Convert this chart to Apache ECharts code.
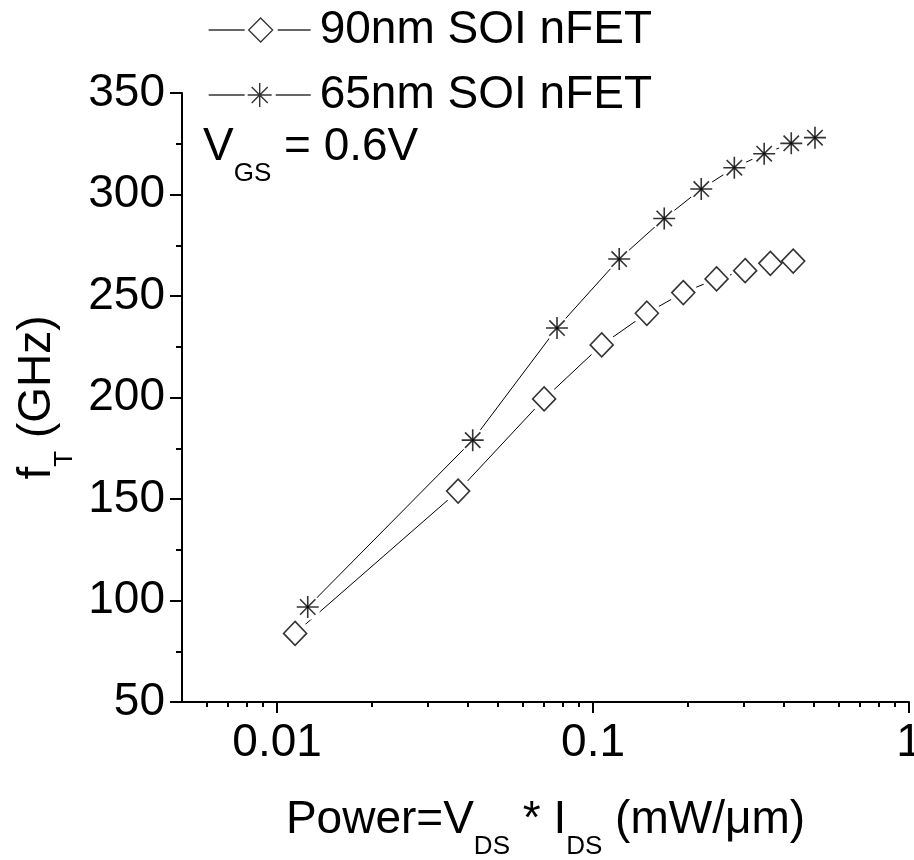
<!DOCTYPE html>
<html><head><meta charset="utf-8">
<script src="https://cdn.jsdelivr.net/npm/echarts@6/dist/echarts.min.js"></script>
<style>html,body{margin:0;padding:0;background:#fff}#c{width:914px;height:860px}</style>
</head><body><div id="c"></div>
<script>
// ---- data ----
const power90 = [0.0114, 0.0374, 0.0700, 0.1065, 0.148, 0.193, 0.246, 0.303, 0.364, 0.430];
const ft90    = [83.8, 153.9, 199.3, 225.9, 241.5, 251.7, 258.4, 262.5, 266.1, 267.2];
const power65 = [0.0125, 0.0416, 0.0769, 0.121, 0.168, 0.220, 0.280, 0.348, 0.424, 0.504];
const ft65    = [96.8, 179.0, 234.2, 268.2, 288.2, 302.7, 313.2, 320.1, 325.2, 328.0];
const seriesNames = ['90nm SOI nFET', '65nm SOI nFET'];
const xMajorTicks = [0.01, 0.1, 1];
const xMinorTicks = [0.006, 0.007, 0.008, 0.009, 0.02, 0.03, 0.04, 0.05, 0.06, 0.07, 0.08, 0.09,
                     0.2, 0.3, 0.4, 0.5, 0.6, 0.7, 0.8, 0.9];
const xMin = 0.005, xMax = 1;
const yMin = 50, yMax = 350, yStep = 50;

const FONT = "'Liberation Sans', Arial, sans-serif";
const pairs = (xs, ys) => xs.map((x, i) => [x, ys[i]]);
const d90 = pairs(power90, ft90);
const d65 = pairs(power65, ft65);

const STAR = 'path://M0,10 L20,10 M10,0 L10,20 M3,3 L17,17 M17,3 L3,17 M9,9 L11,9 L11,11 L9,11 Z';
const LEG90 = 'path://M0,12 L36,12 M69,12 L102,12 M52,0 L64,12 L52,24 L40,12 Z';
const LEG65 = 'path://M0,12 L36,12 M67,12 L102,12 M39,12 L63,12 M51,0 L51,24 M43,4 L59,20 M59,4 L43,20';

const sub = {fontSize: 26, fontFamily: FONT, color: '#000', padding: [54, 0, 0, 0]};
const big = {fontSize: 46, fontFamily: FONT, color: '#000'};

const chart = echarts.init(document.getElementById('c'), null, {renderer: 'canvas'});
chart.setOption({
  animation: false,
  backgroundColor: '#fff',
  grid: {left: 182, right: 5, top: 93, bottom: 158, containLabel: false, outerBoundsMode: 'none'},
  legend: [
    {data: [{name: seriesNames[0], icon: LEG90}], left: 203, top: 2, itemWidth: 102, itemHeight: 24,
     itemStyle: {color: '#fff', borderColor: '#000', borderWidth: 1.3},
     textStyle: {fontSize: 46, fontFamily: FONT, color: '#000', padding: [0, 0, 0, 4]}, selectedMode: false},
    {data: [{name: seriesNames[1], icon: LEG65}], left: 203, top: 67, itemWidth: 102, itemHeight: 24,
     itemStyle: {color: '#000', borderColor: '#000', borderWidth: 1.4},
     textStyle: {fontSize: 46, fontFamily: FONT, color: '#000', padding: [0, 0, 0, 4]}, selectedMode: false}
  ],
  xAxis: [
    {type: 'log', logBase: 10, min: xMin, max: xMax, gridIndex: 0, position: 'bottom',
     name: '{b|Power=V}{s|DS}{b| * I}{s|DS}{b| (mW/μm)}', nameLocation: 'middle', nameGap: 78,
     nameTextStyle: {rich: {b: big, s: sub}},
     axisLine: {show: true, onZero: false, lineStyle: {color: '#000', width: 2}},
     axisTick: {show: true, inside: false, length: 11, customValues: xMajorTicks, lineStyle: {color: '#000', width: 2}},
     axisLabel: {show: true, customValues: xMajorTicks, margin: 18, fontSize: 46, fontFamily: FONT, color: '#000',
                 formatter: v => String(+v.toPrecision(3))},
     splitLine: {show: false}, minorTick: {show: false}},
    {type: 'log', logBase: 10, min: xMin, max: xMax, gridIndex: 0, position: 'bottom',
     axisLine: {show: false},
     axisTick: {show: true, inside: false, length: 5, customValues: xMinorTicks, lineStyle: {color: '#000', width: 2}},
     axisLabel: {show: false}, splitLine: {show: false}}
  ],
  yAxis: {type: 'value', min: yMin, max: yMax, interval: yStep,
    name: '{b|f}{s|T}{b| (GHz)}', nameLocation: 'middle', nameGap: 104,
    nameTextStyle: {rich: {b: big, s: sub}},
    axisLine: {show: true, onZero: false, lineStyle: {color: '#000', width: 2}},
    axisTick: {show: true, inside: false, length: 12, lineStyle: {color: '#000', width: 2}},
    minorTick: {show: true, splitNumber: 2, length: 6, lineStyle: {color: '#000', width: 2}},
    axisLabel: {margin: 17, fontSize: 46, fontFamily: FONT, color: '#000'},
    splitLine: {show: false}},
  graphic: [{
    type: 'text', left: 203, top: 124,
    style: {text: '{b|V}{s|GS}{b| = 0.6V}', rich: {b: big, s: sub}}
  }],
  series: [
    {name: 'l65', type: 'line', data: d65, symbol: 'circle', symbolSize: 26, silent: true, z: 2,
     itemStyle: {color: '#fff', borderWidth: 0}, lineStyle: {color: '#000', width: 1}},
    {name: 'l90', type: 'line', data: d90, symbol: 'circle', symbolSize: 28, silent: true, z: 2,
     itemStyle: {color: '#fff', borderWidth: 0}, lineStyle: {color: '#000', width: 1}},
    {name: seriesNames[0], type: 'scatter', data: d90, symbol: 'diamond', symbolSize: [23, 24], z: 3,
     itemStyle: {color: '#fff', borderColor: '#000', borderWidth: 1.6}},
    {name: seriesNames[1], type: 'scatter', data: d65, symbol: STAR, symbolSize: 22, z: 3,
     itemStyle: {color: '#000', borderColor: '#000', borderWidth: 1.6}}
  ]
});
</script></body></html>
